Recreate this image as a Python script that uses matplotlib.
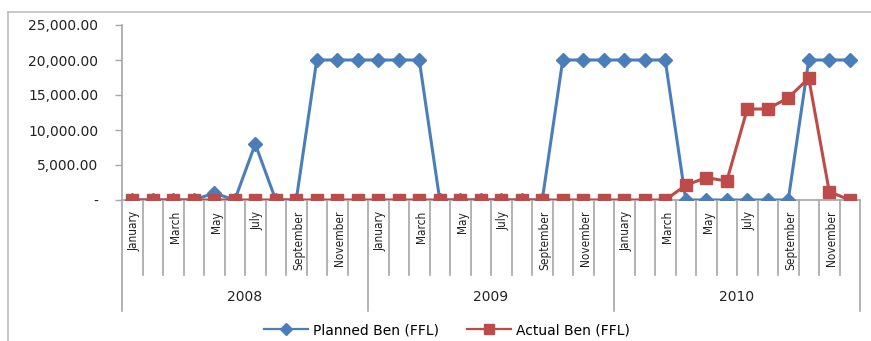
import matplotlib
matplotlib.use("Agg")
import matplotlib.pyplot as plt
from matplotlib.lines import Line2D
from matplotlib.ticker import FuncFormatter
import matplotlib.transforms as mtransforms

years = ["2008", "2009", "2010"]
months = ["January", "February", "March", "April", "May", "June", "July",
          "August", "September", "October", "November", "December"]

planned = [0, 0, 0, 0, 1000, 0, 8000, 0, 0, 20000, 20000, 20000,
           20000, 20000, 20000, 0, 0, 0, 0, 0, 0, 20000, 20000, 20000,
           20000, 20000, 20000, 0, 0, 0, 0, 0, 0, 20000, 20000, 20000]
actual = [0, 0, 0, 0, 0, 0, 0, 0, 0, 0, 0, 0,
          0, 0, 0, 0, 0, 0, 0, 0, 0, 0, 0, 0,
          0, 0, 0, 2100, 3200, 2700, 13000, 13000, 14600, 17400, 1200, 0]

yticks = [0, 5000, 10000, 15000, 20000, 25000]

BLUE = "#4A7EBB"
RED = "#BE4B48"
GRID = "#A6A6A6"

W, H = 871, 341
fig = plt.figure(figsize=(W / 100, H / 100), dpi=100)

# outer chart frame (top and left edges)
fig.add_artist(Line2D([8 / W, 1.0], [1 - 12 / H, 1 - 12 / H], color="#BFBFBF", lw=1.2))
fig.add_artist(Line2D([8 / W, 8 / W], [0.0, 1 - 12 / H], color="#BFBFBF", lw=1.2))

left, right, top, bottom = 122, 860, 25, 200
ax = fig.add_axes([left / W, 1 - bottom / H, (right - left) / W, (bottom - top) / H])

n = len(planned)
x = list(range(n))

ax.plot(x, planned, color=BLUE, lw=2.2, marker="D", ms=7, zorder=3,
        solid_joinstyle="miter")
ax.plot(x, actual, color=RED, lw=2.2, marker="s", ms=8.5, zorder=4,
        solid_joinstyle="miter")

ax.set_xlim(-0.5, n - 0.5)
ax.set_ylim(0, 25000)
ax.set_yticks(yticks)
ax.yaxis.set_major_formatter(FuncFormatter(lambda v, p: "-" if v == 0 else f"{v:,.2f}"))
ax.tick_params(axis="y", length=5, width=1, color=GRID, pad=12, labelsize=10,
               labelcolor="#222222")
ax.set_xticks([])
for s in ("top", "right"):
    ax.spines[s].set_visible(False)
ax.spines["left"].set_color(GRID)
ax.spines["bottom"].set_color(GRID)
ax.spines["left"].set_linewidth(1.2)
ax.spines["bottom"].set_linewidth(1.2)

# multi-level category axis: month boundaries, month names, year separators
trans = mtransforms.blended_transform_factory(ax.transData, ax.transAxes)
h = bottom - top
month_depth = -(275 - bottom) / h
year_depth = -(311 - bottom) / h
for i in range(n + 1):
    depth = year_depth if i % 12 == 0 else month_depth
    ax.plot([i - 0.5, i - 0.5], [0, depth], color=GRID, lw=1.2,
            transform=trans, clip_on=False, zorder=1)

label_top = -(211 - bottom) / h
for i in range(n):
    if i % 2 == 0:
        ax.text(i + 0.1, label_top, months[i % 12], rotation=90, ha="center", va="top",
                fontsize=8.5, family="DejaVu Sans", fontstretch="condensed",
                color="#222222", transform=trans)

year_y = -(297 - bottom) / h
for k, yr in enumerate(years):
    ax.text(12 * k + 5.5, year_y, yr, ha="center", va="center", fontsize=10,
            color="#222222", transform=trans)

handles = [
    Line2D([], [], color=BLUE, lw=1.6, marker="D", ms=6),
    Line2D([], [], color=RED, lw=1.6, marker="s", ms=7),
]
fig.legend(handles, ["Planned Ben (FFL)", "Actual Ben (FFL)"], loc="center",
           bbox_to_anchor=(447 / W, 1 - 330 / H), ncol=2, frameon=False,
           fontsize=10, handlelength=3.2, handletextpad=0.35, columnspacing=2.0)

fig.savefig("out.png", dpi=100)
